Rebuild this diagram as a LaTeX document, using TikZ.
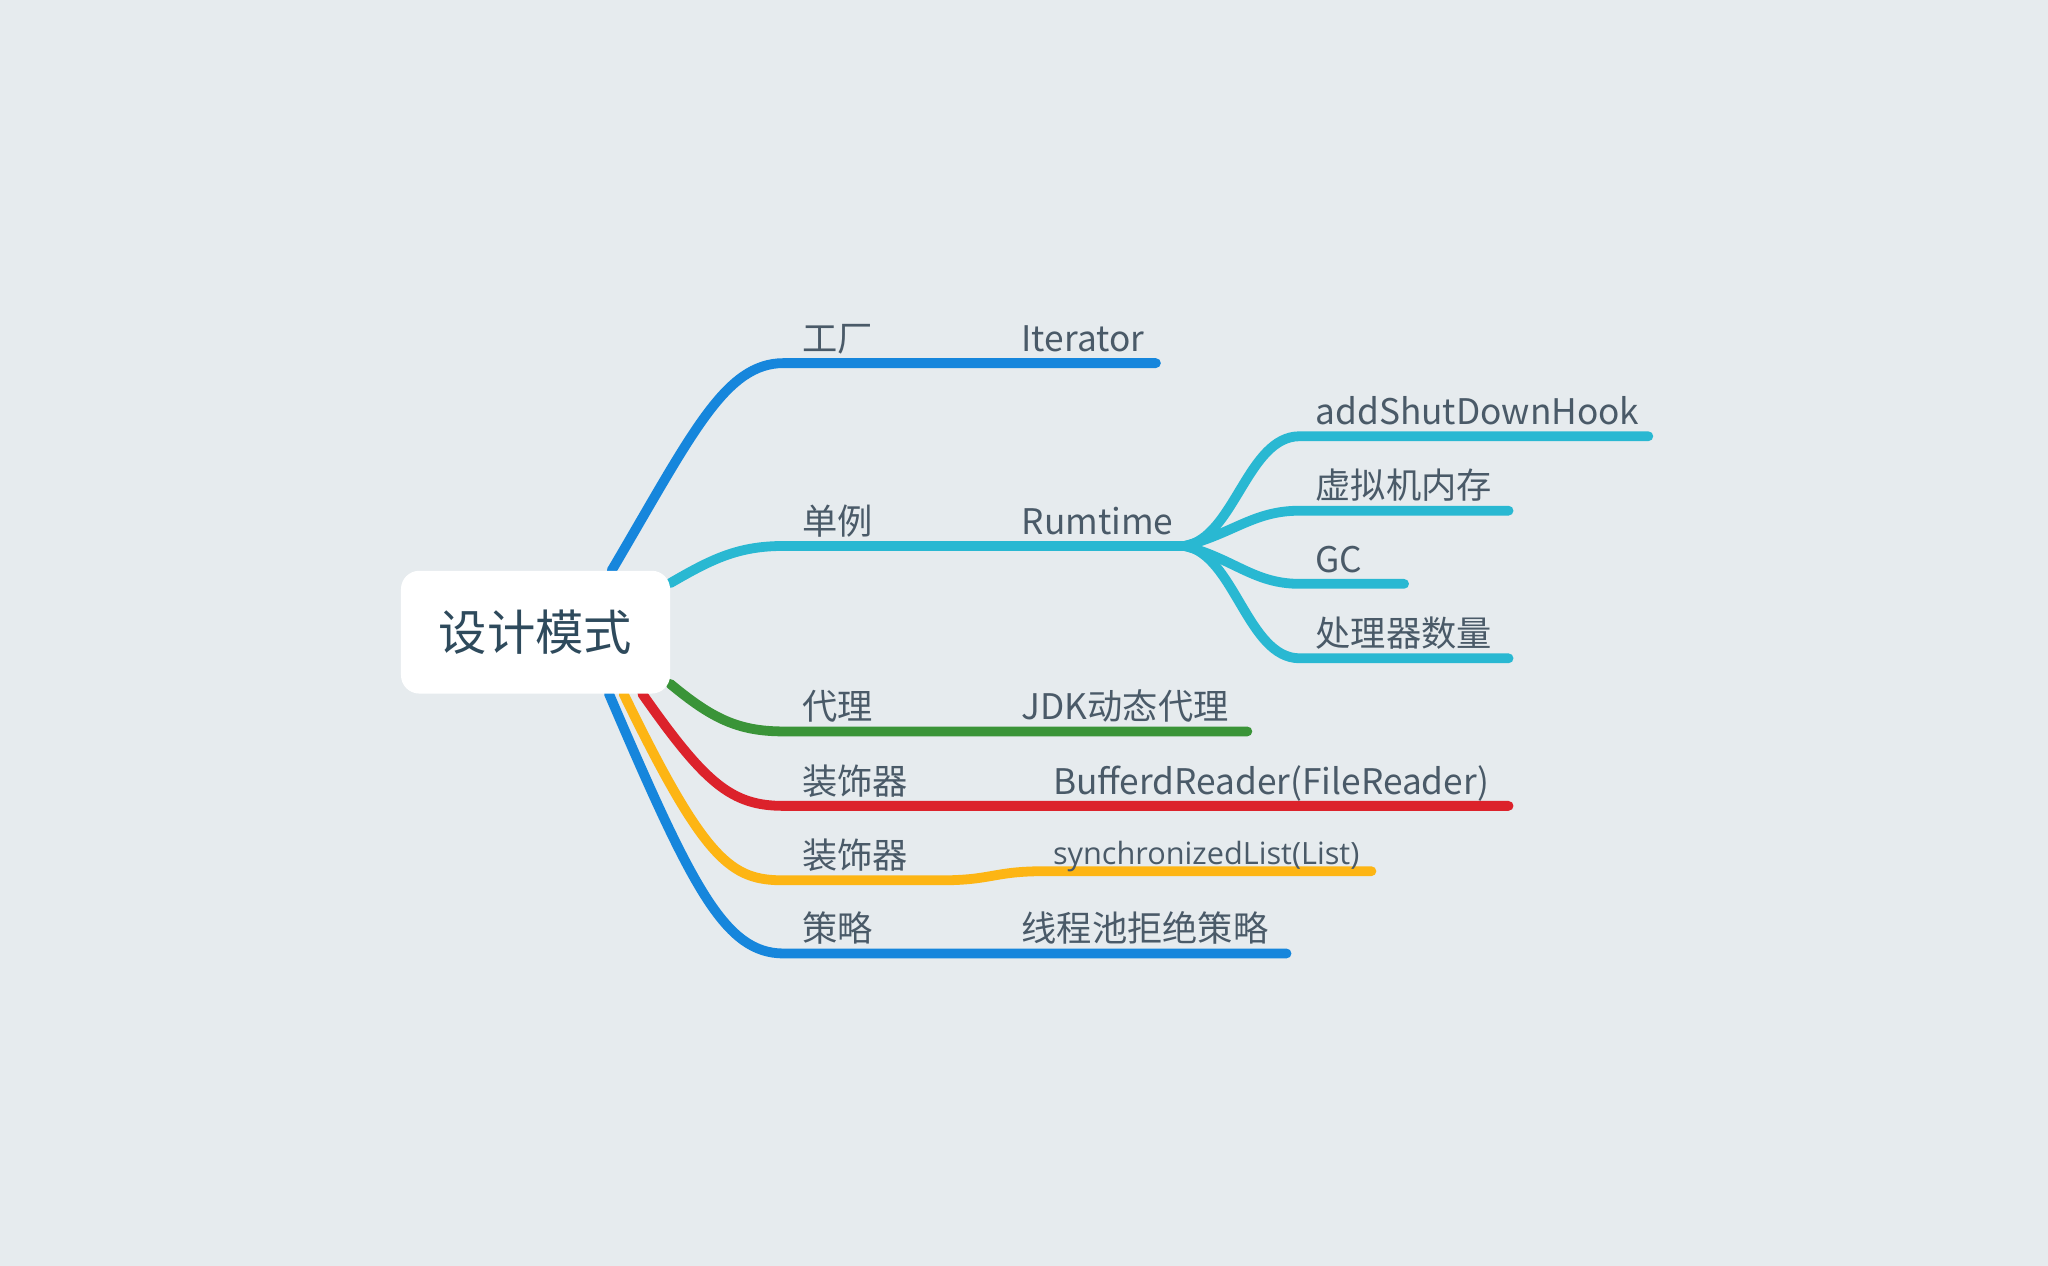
\documentclass[tikz,border=0pt]{standalone}
\usepackage{fontspec}
\setmainfont{Noto Sans CJK SC}
\newfontfamily\smallsans{Open Sans}

\definecolor{bgc}{HTML}{E6EBEE}
\definecolor{txt}{HTML}{4A5A68}
\definecolor{roottxt}{HTML}{2E4A5C}
\definecolor{cblue}{HTML}{1686DC}
\definecolor{ccyan}{HTML}{29B8D2}
\definecolor{cgreen}{HTML}{3A9438}
\definecolor{cred}{HTML}{DC222B}
\definecolor{cyellow}{HTML}{FDB514}

\pgfdeclarelayer{back}
\pgfdeclarelayer{lines}
\pgfsetlayers{back,lines,main}

\begin{document}
\begin{tikzpicture}[x=1pt,y=-1pt,
    branch/.style={line width=7.5pt, line cap=round},
    lbl/.style={anchor=base west, inner sep=0pt, text=txt, font=\fontsize{27}{30}\selectfont}]

        \begin{pgfonlayer}{back}
          \fill[bgc] (0,0) rectangle (1568,969);
        \end{pgfonlayer}

        \node[fill=white, rounded corners=14pt, minimum width=206pt, minimum height=94pt,
              text=roottxt, font=\fontsize{37}{40}\selectfont] (root) at (410,484) {设计模式};

        \begin{scope}[every node/.style={lbl}]
          \node (a1) at (614,269) {工厂};
          \node (a2) at (782,269) {Iterator};
          \node (b1) at (614,409) {单例};
          \node (b2) at (782,409) {Rumtime};
          \node (c1) at (1007,325) {addShutDownHook};
          \node (c2) at (1007,382) {虚拟机内存};
          \node (c3) at (1007,438) {GC};
          \node (c4) at (1007,495) {处理器数量};
          \node (d1) at (614,551) {代理};
          \node (d2) at (782,551) {JDK动态代理};
          \node (e1) at (614,608) {装饰器};
          \node (e2) at (806,608) {BufferdReader(FileReader)};
          \node (f1) at (614,665) {装饰器};
          \node[font=\smallsans\fontsize{23.5}{26}\selectfont] (f2) at (806,662) {synchronizedList(List)};
          \node (g1) at (614,721) {策略};
          \node (g2) at (782,721) {线程池拒绝策略};
        \end{scope}

        % bends and line ends
        \coordinate (ka) at (600,278);  \coordinate (ta) at (885,278);
        \coordinate (kb) at (600,418);  \coordinate (jb) at (907,418);
        \coordinate (kc1) at (995,334); \coordinate (tc1) at (1262,334);
        \coordinate (kc2) at (995,391); \coordinate (tc2) at (1155,391);
        \coordinate (kc3) at (995,447); \coordinate (tc3) at (1075,447);
        \coordinate (kc4) at (995,504); \coordinate (tc4) at (1155,504);
        \coordinate (kd) at (600,560);  \coordinate (td) at (955,560);
        \coordinate (ke) at (600,617);  \coordinate (te) at (1155,617);
        \coordinate (kf) at (600,674);  \coordinate (wf) at (720,674);
        \coordinate (vf) at (800,667);  \coordinate (tf) at (1050,667);
        \coordinate (kg) at (600,730);  \coordinate (tg) at (985,730);

        \begin{pgfonlayer}{lines}
          \begin{scope}[every path/.style={branch}]
            \draw[cblue]   (root.39) .. controls (530,332) and (555,278) .. (ka) -- (ta);
            \draw[ccyan]   (root.20) .. controls (545,428) and (565,418) .. (kb) -- (jb);
            \draw[ccyan]   (jb) .. controls (945,412) and (955,334) .. (kc1) -- (tc1);
            \draw[ccyan]   (jb) .. controls (945,408) and (960,391) .. (kc2) -- (tc2);
            \draw[ccyan]   (jb) .. controls (945,428) and (960,447) .. (kc3) -- (tc3);
            \draw[ccyan]   (jb) .. controls (945,424) and (955,504) .. (kc4) -- (tc4);
            \draw[cgreen]  (root.-21) .. controls (545,550) and (565,560) .. (kd) -- (td);
            \draw[cred]    (root.-30) .. controls (540,600) and (560,617) .. (ke) -- (te);
            \draw[cyellow] (root.-35) .. controls (540,660) and (560,674) .. (kf) -- (wf)
                           .. controls (760,674) and (760,667) .. (vf) -- (tf);
            \draw[cblue]   (root.-40) .. controls (530,680) and (555,730) .. (kg) -- (tg);
          \end{scope}
        \end{pgfonlayer}

      \end{tikzpicture}
\end{document}
